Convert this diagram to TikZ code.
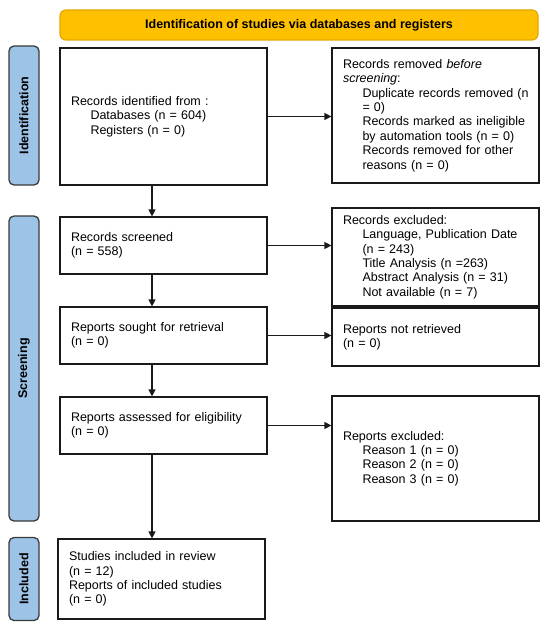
\documentclass[tikz,border=0pt]{standalone}
\usepackage{fontspec}
\setmainfont{Liberation Sans}
\usetikzlibrary{arrows.meta}
\definecolor{bannerfill}{HTML}{FFC000}
\definecolor{bannerline}{HTML}{E3A800}
\definecolor{sidefill}{HTML}{9DC3E6}
\definecolor{sideline}{HTML}{3A3A3A}
\definecolor{boxline}{HTML}{1A1A1A}
\newcommand{\ind}{\hspace*{19.5pt}}
\tikzset{
  every node/.style={font=\fontsize{12.5}{14.4}\selectfont},
  stagebox/.style={draw=boxline, line width=1.2pt, fill=white, inner xsep=11pt, inner ysep=0pt,
    align=left, text width=185pt, minimum width=207pt},
  sidelabel/.style={draw=sideline, line width=1.3pt, fill=sidefill, rounded corners=5pt,
    rotate=90, minimum height=30pt, inner sep=0pt, font=\fontsize{12.5}{14.4}\selectfont\bfseries},
  banner/.style={draw=bannerline, line width=1.2pt, fill=bannerfill, rounded corners=6pt,
    minimum width=478pt, minimum height=30pt, inner sep=0pt, font=\fontsize{12.5}{14.4}\selectfont\bfseries},
  arr/.style={draw=boxline, line width=1.2pt, -{Triangle[length=7pt,width=7pt]}}
}
\begin{document}
\begin{tikzpicture}[x=1pt,y=-1pt]
\useasboundingbox (0,0) rectangle (550,626);
\fill[white] (0,0) rectangle (550,626);

\node[banner] (ban) at (299,25) {Identification of studies via databases and registers};

\node[sidelabel, minimum width=139pt] (lid) at (24,115.5) {Identification};
\node[sidelabel, minimum width=305pt] (lsc) at (24,368.5) {Screening};
\node[sidelabel, minimum width=83pt] (lin) at (24,579) {Included};

\node[stagebox, minimum height=137pt] (b1) at (163.5,116.5)
  {\mbox{Records identified from :}\\\ind\mbox{Databases (n = 604)}\\\ind\mbox{Registers (n = 0)}};
\node[stagebox, minimum height=135pt] (b2) at (435.5,115.5)
  {\mbox{Records removed \textit{before}}\\\mbox{\textit{screening}:}\\
   \ind\mbox{Duplicate records removed (n}\\\ind\mbox{= 0)}\\
   \ind\mbox{Records marked as ineligible}\\\ind\mbox{by automation tools (n = 0)}\\
   \ind\mbox{Records removed for other}\\\ind\mbox{reasons (n = 0)}};

\node[stagebox, minimum height=57pt] (b3) at (163.5,245.5)
  {\mbox{Records screened}\\\mbox{(n = 558)}};
\node[stagebox, minimum height=98pt] (b4) at (435.5,257)
  {\mbox{Records excluded:}\\\ind\mbox{Language, Publication Date}\\\ind\mbox{(n = 243)}\\
   \ind\mbox{Title Analysis (n =263)}\\\ind\mbox{Abstract Analysis (n = 31)}\\\ind\mbox{Not available (n = 7)}};

\node[stagebox, minimum height=57pt] (b5) at (163.5,335.5)
  {\mbox{Reports sought for retrieval}\\\mbox{(n = 0)}};
\node[stagebox, minimum height=58pt] (b6) at (435.5,337)
  {\mbox{Reports not retrieved}\\\mbox{(n = 0)}};

\node[stagebox, minimum height=57pt] (b7) at (163.5,425.5)
  {\mbox{Reports assessed for eligibility}\\\mbox{(n = 0)}};
\node[stagebox, minimum height=125pt] (b8) at (435.5,458.5)
  {\mbox{Reports excluded:}\\\ind\mbox{Reason 1 (n = 0)}\\\ind\mbox{Reason 2 (n = 0)}\\\ind\mbox{Reason 3 (n = 0)}};

\node[stagebox, minimum height=80pt] (b9) at (161.5,579)
  {\mbox{Studies included in review}\\\mbox{(n = 12)}\\\mbox{Reports of included studies}\\\mbox{(n = 0)}};

\coordinate (ax) at (152,0);

\draw[arr] (b1.east) -- (b1.east -| b2.west);
\draw[arr] (b3.east) -- (b3.east -| b4.west);
\draw[arr] (b5.east) -- (b5.east -| b6.west);
\draw[arr] (b7.east) -- (b7.east -| b8.west);

\draw[arr] (b1.south -| ax) -- (b3.north -| ax);
\draw[arr] (b3.south -| ax) -- (b5.north -| ax);
\draw[arr] (b5.south -| ax) -- (b7.north -| ax);
\draw[arr] (b7.south -| ax) -- (b9.north -| ax);
\end{tikzpicture}
\end{document}
